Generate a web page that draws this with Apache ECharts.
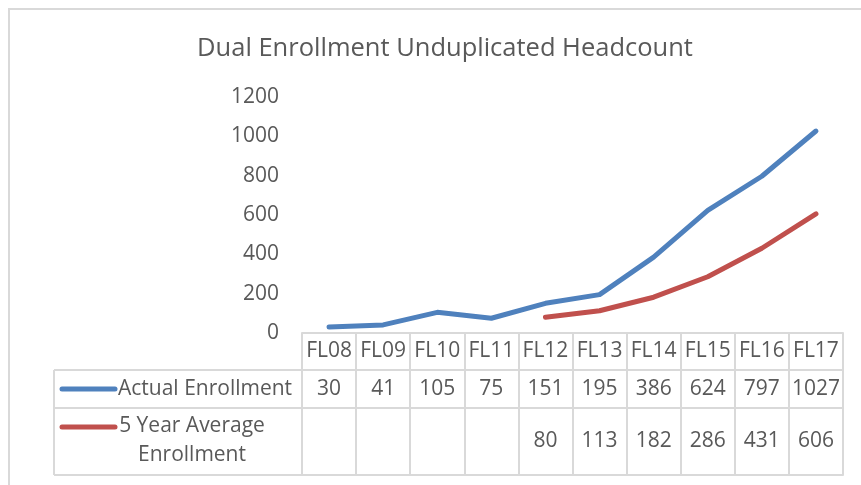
<!DOCTYPE html>
<html>
<head>
    <meta charset="utf-8">
    <title>Dual Enrollment Unduplicated Headcount</title>
    <script src="https://cdn.jsdelivr.net/npm/echarts@6/dist/echarts.min.js"></script>
    <style>
        html, body { margin: 0; padding: 0; background: #fff; }
    </style>
</head>
<body>
    <div id="main" style="width: 861px;height:485px;"></div>
    <script type="text/javascript">
// data
var terms = ['FL08', 'FL09', 'FL10', 'FL11', 'FL12', 'FL13', 'FL14', 'FL15', 'FL16', 'FL17'];
var actualEnrollment = [30, 41, 105, 75, 151, 195, 386, 624, 797, 1027];
var fiveYearAverage = [null, null, null, null, 80, 113, 182, 286, 431, 606];
var seriesNames = ['Actual Enrollment', '5 Year Average Enrollment'];
var seriesLabels = ['Actual Enrollment', '5 Year Average\nEnrollment'];
var yTicks = { min: 0, max: 1200, interval: 200 };

var textColor = '#595959';
var borderColor = '#D9D9D9';
var colors = ['#4F81BD', '#C0504D'];
var font = '"Open Sans", sans-serif';
var fontSize = 21;

var myChart = echarts.init(document.getElementById('main'));

function cellText(arr) {
    return arr.map(function (v) { return v == null ? '' : String(v); });
}

// table rows are drawn as extra x axes under the plot
function tableAxis(data, offset, rowHeight, showLabel) {
    return {
        type: 'category',
        position: 'bottom',
        offset: offset,
        data: data,
        boundaryGap: true,
        axisLine: { show: true, lineStyle: { color: borderColor, width: 2 } },
        axisTick: { show: rowHeight > 0, interval: 0, length: rowHeight, lineStyle: { color: borderColor, width: 2 } },
        axisLabel: {
            show: showLabel,
            interval: 0,
            margin: rowHeight / 2,
            verticalAlign: 'middle',
            color: textColor,
            fontSize: fontSize,
            fontFamily: font
        },
        splitLine: { show: false }
    };
}

var legendLeft = 54, tableLeft = 302;
var rowTops = [370, 408, 475];

var graphics = [
    // outer chart border
    { type: 'rect', shape: { x: 9, y: 9, width: 900, height: 520 }, style: { fill: 'none', stroke: borderColor, lineWidth: 2 }, silent: true },
    { type: 'line', shape: { x1: legendLeft, y1: rowTops[0], x2: legendLeft, y2: rowTops[2] }, style: { stroke: borderColor, lineWidth: 2 } }
];
rowTops.forEach(function (y) {
    graphics.push({ type: 'line', shape: { x1: legendLeft, y1: y, x2: tableLeft, y2: y }, style: { stroke: borderColor, lineWidth: 2 } });
});
var keyY = [389, 427];
var labelY = [389, 441];
seriesLabels.forEach(function (name, i) {
    graphics.push({ type: 'line', shape: { x1: 62, y1: keyY[i], x2: 115, y2: keyY[i] }, style: { stroke: colors[i], lineWidth: 5, lineCap: 'round' } });
    graphics.push({
        type: 'text',
        x: i === 0 ? 118 : 192,
        y: labelY[i],
        style: {
            text: name,
            fill: textColor,
            font: fontSize + 'px ' + font,
            align: i === 0 ? 'left' : 'center',
            verticalAlign: 'middle',
            lineHeight: 29
        }
    });
});

option = {
    animation: false,
    color: colors,
    title: {
        text: 'Dual Enrollment Unduplicated Headcount',
        left: 440,
        textAlign: 'center',
        top: 31,
        textStyle: { color: textColor, fontSize: 25.5, fontWeight: 'normal', fontFamily: font }
    },
    grid: { left: 302, right: 18, top: 97, bottom: 152, containLabel: false },
    xAxis: [
        tableAxis(terms, 0, 37, true),
        tableAxis(cellText(actualEnrollment), 37, 38, true),
        tableAxis(cellText(fiveYearAverage), 75, 67, true),
        tableAxis(terms, 142, 0, false)
    ],
    yAxis: {
        type: 'value',
        min: yTicks.min,
        max: yTicks.max,
        interval: yTicks.interval,
        axisLine: { show: false },
        axisTick: { show: false },
        splitLine: { show: false },
        axisLabel: {
            margin: 23,
            color: textColor,
            fontSize: fontSize,
            fontFamily: font,
            formatter: function (v) { return String(v); }
        }
    },
    series: [
        {
            name: seriesNames[0],
            type: 'line',
            xAxisIndex: 0,
            data: actualEnrollment,
            showSymbol: false,
            lineStyle: { width: 5, cap: 'round', join: 'round' }
        },
        {
            name: seriesNames[1],
            type: 'line',
            xAxisIndex: 0,
            data: fiveYearAverage,
            showSymbol: false,
            connectNulls: false,
            lineStyle: { width: 5, cap: 'round', join: 'round' }
        }
    ],
    graphic: graphics
};

myChart.setOption(option);
    </script>
</body>
</html>
